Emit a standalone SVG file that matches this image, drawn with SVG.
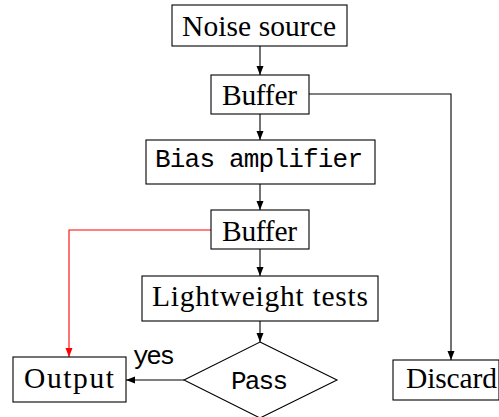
<svg xmlns="http://www.w3.org/2000/svg" width="499" height="417" viewBox="0 0 499 417">
<style>
.box{fill:#fff;stroke:#000;stroke-width:1.1}
.rm{font-family:"Liberation Serif","DejaVu Serif",serif;font-size:29.5px;fill:#000}
.tt{font-family:"Liberation Mono","DejaVu Sans Mono",monospace;font-size:26px;fill:#000}
.ln{fill:none;stroke:#000;stroke-width:1.1}
.red{fill:none;stroke:#f00;stroke-width:1.1}
</style>
<defs>
<marker id="ah" markerWidth="10" markerHeight="8" refX="9" refY="4" orient="auto" markerUnits="userSpaceOnUse">
<path d="M0,0.5 L9,4 L0,7.5 Z" fill="#000"/>
</marker>
<marker id="ahr" markerWidth="10" markerHeight="8" refX="9" refY="4" orient="auto" markerUnits="userSpaceOnUse">
<path d="M0,0.5 L9,4 L0,7.5 Z" fill="#f00"/>
</marker>
</defs>
<g id="connectors">
<path class="ln" d="M260,46 V75" marker-end="url(#ah)"/>
<path class="ln" d="M260,114 V140" marker-end="url(#ah)"/>
<path class="ln" d="M260,184 V210" marker-end="url(#ah)"/>
<path class="ln" d="M260,249 V276" marker-end="url(#ah)"/>
<path class="ln" d="M260,321 V342" marker-end="url(#ah)"/>
<path class="ln" d="M184,380 H126" marker-end="url(#ah)"/>
<path class="ln" d="M309,94 H451 V360" marker-end="url(#ah)"/>
<path class="red" d="M211,230 H69 V357" marker-end="url(#ahr)"/>
<text class="tt" x="133" y="364" textLength="42">yes</text>
</g>
<g id="noise">
<rect class="box" x="172" y="5" width="175" height="41"/>
<text class="rm" x="182" y="36" textLength="154">Noise source</text>
</g>
<g id="buffer1">
<rect class="box" x="211" y="75" width="98" height="39"/>
<text class="rm" x="222" y="105" textLength="75">Buffer</text>
</g>
<g id="bias">
<rect class="box" x="146" y="140" width="229" height="44"/>
<text class="tt" x="155" y="167" textLength="208">Bias amplifier</text>
</g>
<g id="buffer2">
<rect class="box" x="211" y="210" width="98" height="39"/>
<text class="rm" x="222" y="241" textLength="75">Buffer</text>
</g>
<g id="tests">
<rect class="box" x="142" y="276" width="236" height="45"/>
<text class="rm" x="152" y="306" textLength="216">Lightweight tests</text>
</g>
<g id="pass">
<path class="box" d="M260,342 L337,380 L260,418 L184,380 Z"/>
<text class="tt" x="231" y="389" textLength="57">Pass</text>
</g>
<g id="output">
<rect class="box" x="13" y="357" width="113" height="45"/>
<text class="rm" x="24" y="388" textLength="90">Output</text>
</g>
<g id="discard">
<rect class="box" x="393" y="360" width="106" height="40"/>
<text class="rm" x="406" y="388" textLength="91">Discard</text>
</g>
</svg>
